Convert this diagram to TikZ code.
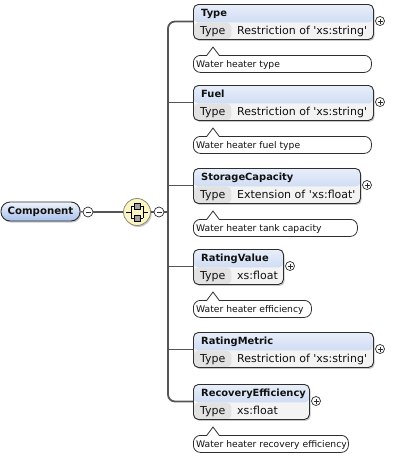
\documentclass[tikz,border=0pt]{standalone}
\usepackage{fontspec}
\setmainfont{DejaVu Sans}
\definecolor{hdrtop}{HTML}{E8EFFA}
\definecolor{hdrbot}{HTML}{B8CCEE}
\definecolor{comptop}{HTML}{EEF3FC}
\definecolor{compbot}{HTML}{A8C0EA}
\definecolor{typecell}{HTML}{E2E2E2}
\definecolor{valcell}{HTML}{F3F3F3}
\definecolor{edge}{HTML}{2E2E2E}
\definecolor{connc}{HTML}{555555}
\definecolor{seqfill}{HTML}{FBF5C6}
\definecolor{seqedge}{HTML}{8A8A76}
\definecolor{sqfill}{HTML}{A0A0A0}
\definecolor{txt}{HTML}{111111}
\newcommand\sq{\textquotesingle}
\tikzset{
  shadowed/.style={preaction={fill=black,opacity=0.22,transform canvas={xshift=1.2pt,yshift=-1.5pt}}},
  ebox/.style={draw=edge, line width=0.9pt, rounded corners=5pt, fill=valcell, inner sep=0pt,
    anchor=north west, shadowed, minimum height=35pt,
    path picture={
      \shade[top color=hdrtop,bottom color=hdrbot] (path picture bounding box.north west) rectangle ([yshift=-18pt]path picture bounding box.north east);
      \fill[typecell] ([yshift=-18pt]path picture bounding box.north west) rectangle ([xshift=38pt]path picture bounding box.south west);
    }},
  cbox/.style={draw=edge, line width=0.8pt, rounded corners=7pt, fill=white, inner sep=0pt,
    anchor=north west, minimum height=17pt},
  cedge/.style={draw=edge, line width=0.8pt},
  htext/.style={anchor=base west, inner sep=0pt, font=\fontsize{9.9}{12}\selectfont\bfseries, text=txt},
  rtext/.style={anchor=base west, inner sep=0pt, font=\fontsize{11}{13}\selectfont, text=txt},
  ctext/.style={anchor=base west, inner sep=0pt, font=\fontsize{9.2}{11}\selectfont, text=txt},
  pluscirc/.style={circle, draw=edge, fill=white, line width=0.7pt, minimum size=9pt, inner sep=0pt,
    path picture={
      \draw[line width=0.7pt] ([xshift=-2.5pt]path picture bounding box.center) -- ([xshift=2.5pt]path picture bounding box.center);
      \draw[line width=0.7pt] ([yshift=-2.5pt]path picture bounding box.center) -- ([yshift=2.5pt]path picture bounding box.center);
    }},
  minuscirc/.style={circle, draw=edge, fill=white, line width=0.7pt, minimum size=10pt, inner sep=0pt,
    path picture={
      \draw[line width=0.7pt] ([xshift=-2.5pt]path picture bounding box.center) -- ([xshift=2.5pt]path picture bounding box.center);
    }},
  comp/.style={draw=edge, line width=0.9pt, rounded corners=9pt, top color=comptop, bottom color=compbot,
    minimum width=79pt, minimum height=19pt, inner sep=0pt, shadowed,
    font=\fontsize{10.2}{12}\selectfont\bfseries, text=txt},
  seqc/.style={circle, draw=seqedge, line width=0.8pt, fill=seqfill, minimum size=27pt, inner sep=0pt, shadowed},
  sqbox/.style={draw=black, line width=0.5pt, fill=sqfill},
  conn/.style={draw=connc, line width=1.4pt},
  trunkline/.style={draw=connc, line width=1.8pt},
}
\newcommand\xelem[5]{%
  \node[ebox, minimum width={#3-193}] (#1) at (193,#2-18) {};
  \node[htext] (#1h) at (201,#2-5.3) {#4};
  \node[rtext] (#1k) at (200,#2+12.4) {Type};
  \node[rtext] (#1v) at (237,#2+12.4) {#5};
  \node[pluscirc] (#1p) at (#3+7,#2-1) {};
}
\newcommand\xcomm[4]{%
  \node[cbox, minimum width={#3-193}] (#1c) at (193,#2+33) {};
  \fill[white] (207,#2+33.9) -- (213,#2+25) -- (219,#2+33.9) -- cycle;
  \draw[cedge] (207,#2+33) -- (213,#2+25) -- (219,#2+33);
  \node[ctext] (#1ct) at (196,#2+45.3) {#4};
}
\begin{document}
\begin{tikzpicture}[x=1pt,y=-1pt]
\useasboundingbox (0,0) rectangle (405,456);
% left part
\node[comp] (comp) at (40.5,211.5) {Component};
\node[minuscirc] (m1) at (88,212) {};
\node[seqc] (seq) at (137,212) {};
\node[minuscirc] (m2) at (159,212) {};
\coordinate (trunk) at (168,212);
\draw[conn] (comp.east) -- (m1.west);
\draw[conn] (m1.east) -- (seq.west);
\draw[conn] (seq.east) -- (m2.west);
\draw[trunkline] (m2.east) -- (trunk);
% sequence icon
\draw[line width=0.8pt, black] (126,212) -- (131,212) (131,206) -- (131,218)
  (131,206) -- (143,206) (131,218) -- (143,218) (143,206) -- (143,218) (143,212) -- (148,212);
\draw[sqbox] (134,203) rectangle (140,209);
\draw[sqbox] (134,215) rectangle (140,221);
% elements
\coordinate (cType) at (193,21.5);
\coordinate (cFuel) at (193,102.5);
\coordinate (cStor) at (193,185.5);
\coordinate (cRV) at (193,266.5);
\coordinate (cRM) at (193,349.5);
\coordinate (cRE) at (193,401.5);
\draw[trunkline, rounded corners=7pt] (cType) -| (trunk) |- (cRE);
\draw[trunkline] (trunk |- cFuel) -- (cFuel);
\draw[trunkline] (trunk |- cStor) -- (cStor);
\draw[trunkline] (trunk |- cRV) -- (cRV);
\draw[trunkline] (trunk |- cRM) -- (cRM);
\xelem{etype}{22}{373}{Type}{Restriction of \sq xs:string\sq}
\xcomm{etype}{22}{371}{Water heater type}
\xelem{efuel}{103}{373}{Fuel}{Restriction of \sq xs:string\sq}
\xcomm{efuel}{103}{371}{Water heater fuel type}
\xelem{estor}{186}{360}{StorageCapacity}{Extension of \sq xs:float\sq}
\xcomm{estor}{186}{357}{Water heater tank capacity}
\xelem{erv}{267}{283}{RatingValue}{xs:float}
\xcomm{erv}{267}{311}{Water heater efficiency}
\xelem{erm}{350}{373}{RatingMetric}{Restriction of \sq xs:string\sq}
\xelem{ere}{402}{309}{RecoveryEfficiency}{xs:float}
\xcomm{ere}{402}{348}{Water heater recovery efficiency}
\end{tikzpicture}
\end{document}
